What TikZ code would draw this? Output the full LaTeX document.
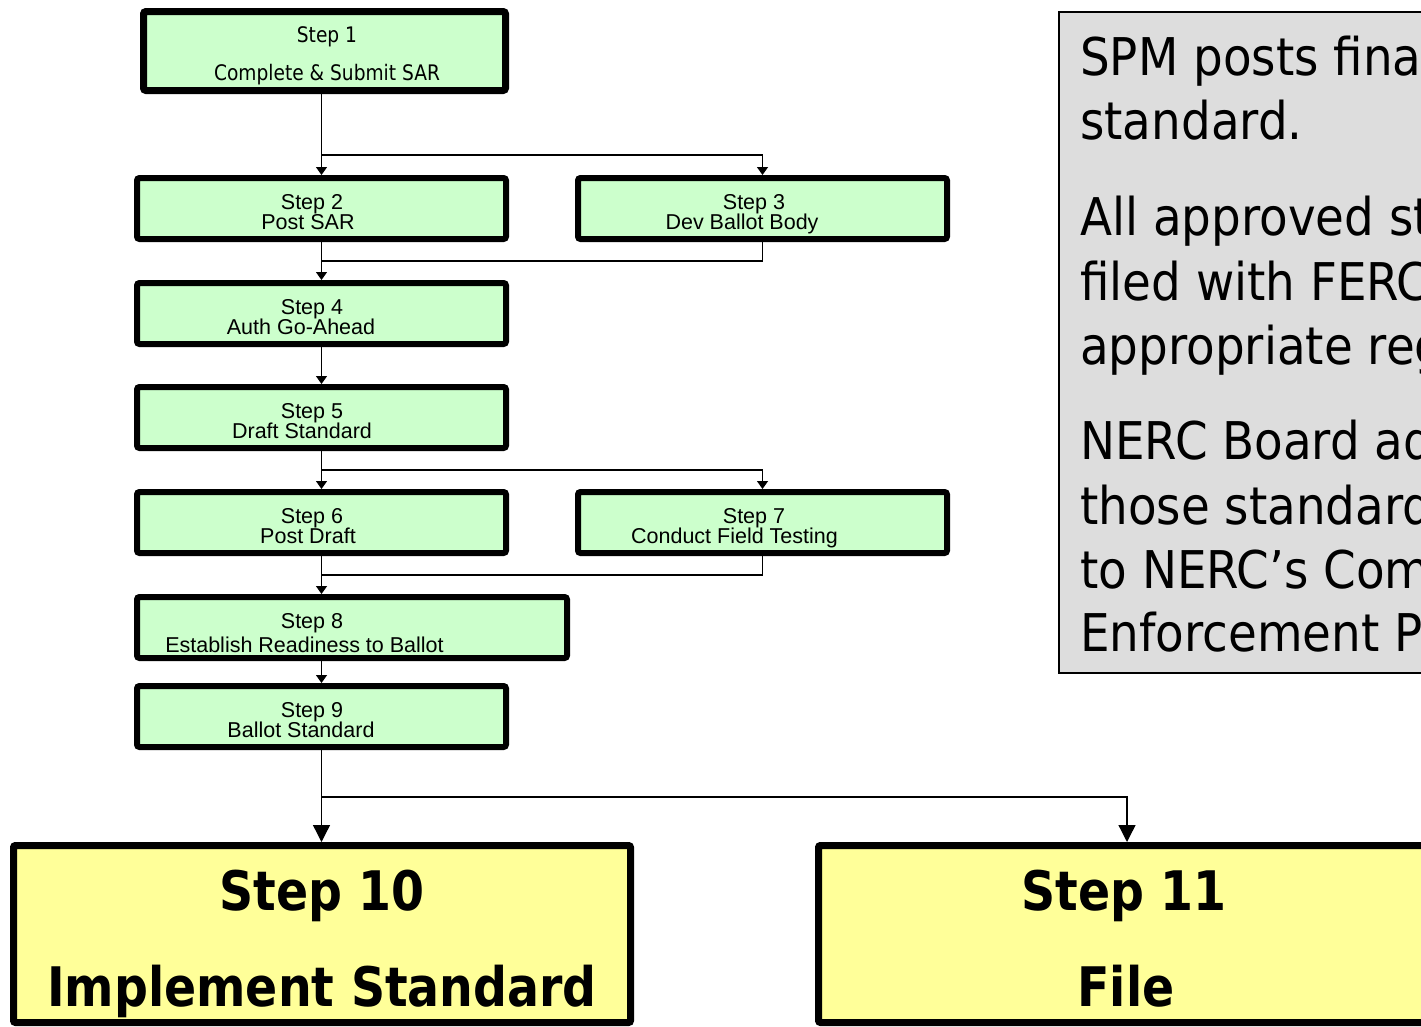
\documentclass[tikz,border=0pt]{standalone}
\usepackage{fontspec}
\setmainfont{Liberation Sans}
\newfontfamily\tahoma[FakeStretch=0.87]{DejaVu Sans}
\newfontfamily\tahomanote[FakeStretch=0.9]{DejaVu Sans}
\usetikzlibrary{arrows.meta,calc}
\definecolor{stepgreen}{HTML}{CCFFCC}
\definecolor{stepyellow}{HTML}{FFFF99}
\definecolor{notegray}{HTML}{DDDDDD}
\begin{document}
\begin{tikzpicture}[x=1pt,y=-1pt,
 stepbox/.style={draw=black, fill=stepgreen, line width=6pt, rounded corners=2.5pt, minimum height=61pt, minimum width=369pt, inner sep=0pt},
 bigbox/.style={draw=black, fill=stepyellow, line width=7pt, rounded corners=2pt, minimum width=617pt, minimum height=177pt, inner sep=0pt},
 notebox/.style={draw=black, fill=notegray, line width=2pt, inner sep=0pt, anchor=north west},
 lbl/.style={font=\fontsize{21.5}{21.5}\selectfont, anchor=base, inner sep=0pt},
 lblone/.style={font=\tahoma\fontsize{21.4}{21.4}\selectfont, anchor=base, inner sep=0pt},
 biglbl/.style={font=\tahoma\bfseries\fontsize{54.5}{54.5}\selectfont, anchor=base, inner sep=0pt},
 notelbl/.style={font=\tahomanote\fontsize{52}{52}\selectfont, anchor=base west, inner sep=0pt},
 conn/.style={line width=1.3pt},
 arr/.style={conn, -{Triangle[width=11pt,length=8pt]}},
 bigarr/.style={conn, -{Triangle[width=17pt,length=17pt]}},
]
\useasboundingbox (0,0) rectangle (1421,1026);
\clip (0,0) rectangle (1421,1026);

% boxes
\node[stepbox, line width=7pt, minimum width=362pt, minimum height=79pt] (s1) at (324.5,51) {};
\node[stepbox] (s2) at (321.5,208.5) {};
\node[stepbox] (s3) at (762.5,208.5) {};
\node[stepbox] (s4) at (321.5,313.5) {};
\node[stepbox] (s5) at (321.5,417.5) {};
\node[stepbox] (s6) at (321.5,522.5) {};
\node[stepbox] (s7) at (762.5,522.5) {};
\node[stepbox, minimum width=430pt] (s8) at (352,627.5) {};
\node[stepbox] (s9) at (321.5,716.5) {};
\node[bigbox] (s10) at (322,934) {};
\node[bigbox] (s11) at (1127,934) {};
\node[notebox, minimum width=400pt, minimum height=661pt] (note) at (1058,11) {};

% labels
\node[lblone] (t1a) at (327,42) {Step 1};
\node[lblone] (t1b) at (327,80) {Complete \& Submit SAR};
\node[lbl] (t2a) at (312,209) {Step 2};
\node[lbl] (t2b) at (308,229) {Post SAR};
\node[lbl] (t3a) at (754,209) {Step 3};
\node[lbl] (t3b) at (742,229) {Dev Ballot Body};
\node[lbl] (t4a) at (312,314) {Step 4};
\node[lbl] (t4b) at (301,334) {Auth Go-Ahead};
\node[lbl] (t5a) at (312,418) {Step 5};
\node[lbl] (t5b) at (302,438) {Draft Standard};
\node[lbl] (t6a) at (312,523) {Step 6};
\node[lbl] (t6b) at (308,543) {Post Draft};
\node[lbl] (t7a) at (754,523) {Step 7};
\node[lbl] (t7b) at (734.5,543) {Conduct Field Testing};
\node[lbl] (t8a) at (312,628) {Step 8};
\node[lbl] (t8b) at (304.5,652) {Establish Readiness to Ballot};
\node[lbl] (t9a) at (312,717) {Step 9};
\node[lbl] (t9b) at (301,737) {Ballot Standard};
\node[biglbl] (t10a) at (322,910) {Step 10};
\node[biglbl] (t10b) at (322,1006) {Implement Standard};
\node[biglbl] (t11a) at (1124,910) {Step 11};
\node[biglbl] (t11b) at (1126,1006) {File};

\node[notelbl] (n1) at (1080,75) {SPM posts final};
\node[notelbl] (n2) at (1080,139) {standard.};
\node[notelbl] (n3) at (1080,235) {All approved standards};
\node[notelbl] (n4) at (1080,300) {filed with FERC};
\node[notelbl] (n5) at (1080,364) {appropriate regulatory};
\node[notelbl] (n6) at (1080,459) {NERC Board adopts};
\node[notelbl] (n7) at (1080,524) {those standards};
\node[notelbl] (n8) at (1080,588) {to NERC’s Compliance};
\node[notelbl] (n9) at (1080,651) {Enforcement Program};

% connectors
\coordinate (j1) at ($(s2.north)+(0,-20)$);
\coordinate (j2) at ($(s2.south)!0.5!(s4.north)$);
\coordinate (j3) at ($(s5.south)!0.5!(s6.north)$);
\coordinate (j4) at ($(s6.south)!0.5!(s6.south |- s8.north)$);
\coordinate (j5) at ($(s9.south)+(0,47)$);

\draw[arr] (s1.south -| s2.north) -- (s2.north);
\draw[arr] (j1) -| (s3.north);
\draw[arr] (s2.south) -- (s4.north);
\draw[conn] (s3.south) |- (j2);
\draw[arr] (s4.south) -- (s5.north);
\draw[arr] (s5.south) -- (s6.north);
\draw[arr] (j3) -| (s7.north);
\draw[arr] (s6.south) -- (s6.south |- s8.north);
\draw[conn] (s7.south) |- (j4);
\draw[arr] (s6.south |- s8.south) -- (s9.north);
\draw[bigarr] (s9.south) -- (s9.south |- s10.north);
\draw[bigarr] (j5) -| (s11.north);
\end{tikzpicture}
\end{document}
